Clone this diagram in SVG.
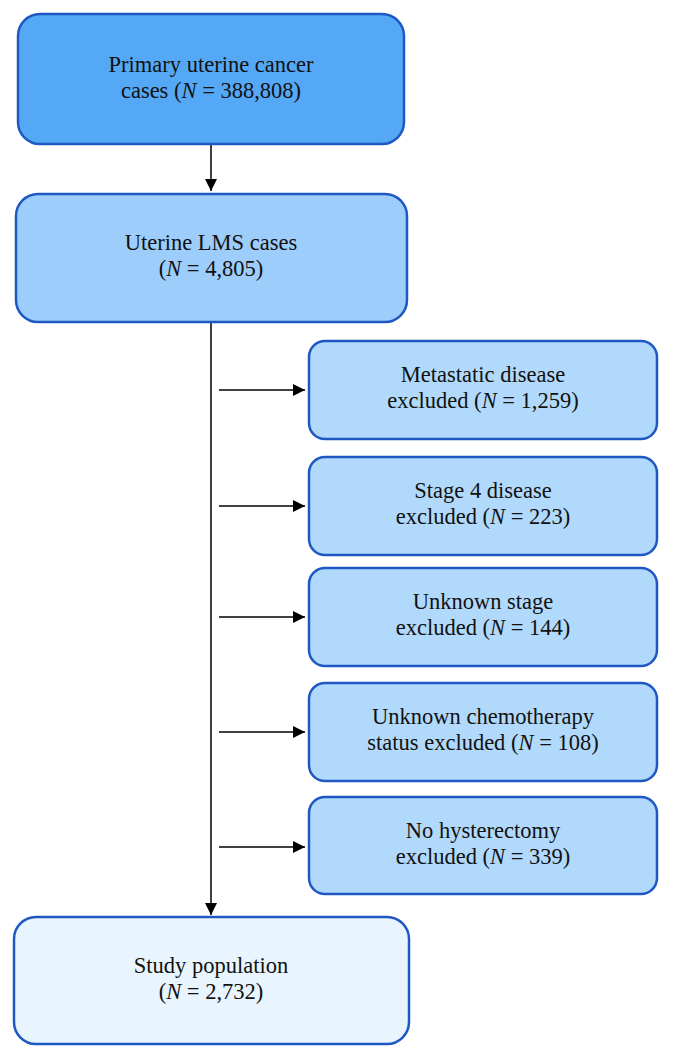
<svg xmlns="http://www.w3.org/2000/svg" width="673" height="1059" viewBox="0 0 673 1059">
<style>
.box{stroke:#1F58C3;stroke-width:2.5}
.b1{fill:#54A8F5}
.b2{fill:#9DCDFA}
.bs{fill:#B1D9FB}
.b4{fill:#E8F4FE}
text{font-family:"Liberation Serif","Times New Roman",serif;font-size:22.5px;fill:#111;text-anchor:middle}
.i{font-style:italic}
.ln{stroke:#000;stroke-width:1.5;fill:none}
</style>
<defs>
<marker id="ah" viewBox="0 0 12 12" refX="12" refY="6" markerWidth="12" markerHeight="12" markerUnits="userSpaceOnUse" orient="auto">
<path d="M0,0 L12,6 L0,12 Z" fill="#000"/>
</marker>
</defs>
<rect width="673" height="1059" fill="#fff"/>
<g id="connectors">
<line class="ln" x1="211" y1="145" x2="211" y2="191" marker-end="url(#ah)"/>
<line class="ln" x1="211" y1="323" x2="211" y2="915" marker-end="url(#ah)"/>
<line class="ln" x1="219" y1="390" x2="305" y2="390" marker-end="url(#ah)"/>
<line class="ln" x1="219" y1="506" x2="305" y2="506" marker-end="url(#ah)"/>
<line class="ln" x1="219" y1="617" x2="305" y2="617" marker-end="url(#ah)"/>
<line class="ln" x1="219" y1="732" x2="305" y2="732" marker-end="url(#ah)"/>
<line class="ln" x1="219" y1="847" x2="305" y2="847" marker-end="url(#ah)"/>
</g>
<g id="primary">
<rect class="box b1" x="18" y="14" width="386" height="130" rx="22"/>
<text x="211" y="72">Primary uterine cancer</text>
<text x="211" y="98">cases (<tspan class="i">N</tspan> = 388,808)</text>
</g>
<g id="lms">
<rect class="box b2" x="16" y="194" width="391" height="128" rx="22"/>
<text x="211" y="250">Uterine LMS cases</text>
<text x="211" y="276">(<tspan class="i">N</tspan> = 4,805)</text>
</g>
<g id="metastatic">
<rect class="box bs" x="309" y="341" width="348" height="98" rx="16"/>
<text x="483" y="382">Metastatic disease</text>
<text x="483" y="408">excluded (<tspan class="i">N</tspan> = 1,259)</text>
</g>
<g id="stage4">
<rect class="box bs" x="309" y="457" width="348" height="98" rx="16"/>
<text x="483" y="498">Stage 4 disease</text>
<text x="483" y="524">excluded (<tspan class="i">N</tspan> = 223)</text>
</g>
<g id="unknownstage">
<rect class="box bs" x="309" y="568" width="348" height="98" rx="16"/>
<text x="483" y="609">Unknown stage</text>
<text x="483" y="635">excluded (<tspan class="i">N</tspan> = 144)</text>
</g>
<g id="chemo">
<rect class="box bs" x="309" y="683" width="348" height="98" rx="16"/>
<text x="483" y="724">Unknown chemotherapy</text>
<text x="483" y="750">status excluded (<tspan class="i">N</tspan> = 108)</text>
</g>
<g id="hysterectomy">
<rect class="box bs" x="309" y="797" width="348" height="97" rx="16"/>
<text x="483" y="838">No hysterectomy</text>
<text x="483" y="864">excluded (<tspan class="i">N</tspan> = 339)</text>
</g>
<g id="study">
<rect class="box b4" x="14" y="917" width="395" height="127" rx="22"/>
<text x="211" y="973">Study population</text>
<text x="211" y="999">(<tspan class="i">N</tspan> = 2,732)</text>
</g>
</svg>
